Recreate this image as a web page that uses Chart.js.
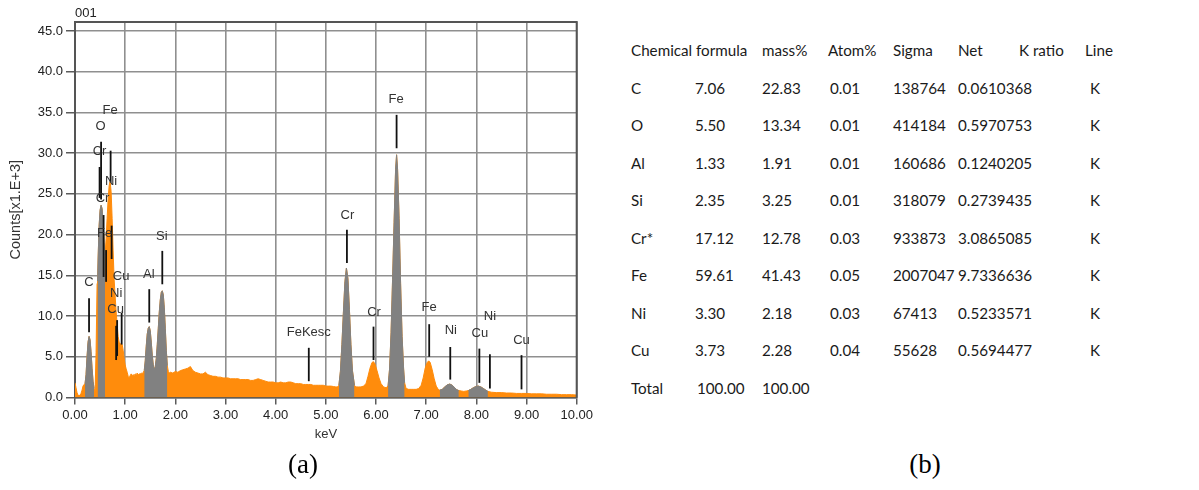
<!DOCTYPE html>
<html>
<head>
<meta charset="utf-8">
<title>EDS spectrum and quantification</title>
<script src="https://cdn.jsdelivr.net/npm/chart.js@4.4.1/dist/chart.umd.min.js"></script>
<style>
  html, body { margin: 0; padding: 0; background: #fff; width: 1199px; height: 490px; overflow: hidden; }
  #spec { position: absolute; left: 0; top: 0; width: 600px; height: 490px; }
  #runId { position: absolute; left: 75px; top: 5px; font: 13px "Liberation Sans", Arial, sans-serif; color: #222; }
  .cell { position: absolute; font-family: Lato, "Noto Sans", sans-serif; font-size: 15.2px; color: #1a1a1a;
          white-space: nowrap; line-height: 20px; height: 20px; }
  .cap { position: absolute; font-family: "Liberation Serif", "Times New Roman", serif; font-size: 27px; color: #000;
         transform: translateX(-50%); line-height: 30px; }
</style>
</head>
<body>
<div id="spec"><canvas id="c"></canvas></div>
<div id="runId">001</div>
<div id="table"></div>
<div class="cap" style="left:303px; top:449px">(a)</div>
<div class="cap" style="left:925px; top:449px">(b)</div>
<script>
// ---- spectrum (energy in keV, counts in thousands) ----
const keV = [
  0.00,0.02,0.04,0.06,0.08,0.10,0.12,0.14,0.16,0.18,
  0.20,0.22,0.24,0.26,0.28,0.30,0.32,0.34,0.36,0.38,
  0.40,0.42,0.44,0.45,0.46,0.48,0.50,0.52,0.54,0.56,
  0.58,0.60,0.62,0.64,0.66,0.68,0.70,0.72,0.74,0.76,
  0.78,0.80,0.82,0.84,0.86,0.88,0.90,0.92,0.94,0.96,
  0.98,1.00,1.02,1.04,1.06,1.08,1.10,1.12,1.14,1.16,
  1.18,1.20,1.22,1.24,1.26,1.28,1.30,1.32,1.34,1.36,
  1.38,1.40,1.42,1.44,1.46,1.48,1.50,1.52,1.54,1.56,
  1.58,1.60,1.62,1.64,1.66,1.68,1.70,1.72,1.74,1.76,
  1.78,1.80,1.82,1.84,1.86,1.88,1.90,1.95,2.00,2.05,
  2.10,2.15,2.20,2.25,2.30,2.35,2.40,2.45,2.50,2.55,
  2.60,2.65,2.70,2.75,2.80,2.85,2.90,2.95,3.00,3.05,
  3.10,3.15,3.20,3.25,3.30,3.35,3.40,3.45,3.50,3.55,
  3.60,3.65,3.70,3.75,3.80,3.85,3.90,3.95,4.00,4.05,
  4.10,4.15,4.20,4.25,4.30,4.35,4.40,4.45,4.50,4.55,
  4.60,4.65,4.70,4.75,4.80,4.85,4.90,4.95,5.00,5.05,
  5.10,5.15,5.20,5.23,
  5.26,5.29,5.32,5.35,5.38,5.41,5.44,5.47,5.50,5.53,
  5.57,5.60,5.65,5.70,5.75,5.80,5.84,5.88,5.92,5.95,
  5.98,6.02,6.06,6.10,6.15,6.20,6.24,6.27,6.30,6.33,
  6.36,6.39,6.41,6.43,6.46,6.49,6.52,6.55,6.57,6.60,
  6.65,6.70,6.75,6.80,6.85,6.90,6.94,6.98,7.02,7.05,
  7.08,7.12,7.16,7.20,7.24,7.27,7.32,7.37,7.42,7.47,
  7.52,7.57,7.61,7.65,7.70,7.75,7.80,7.84,7.89,7.94,
  7.99,8.04,8.09,8.14,8.19,8.23,8.30,8.40,8.50,8.60,
  8.70,8.80,8.90,9.00,9.10,9.20,9.30,9.40,9.50,9.60,
  9.70,9.80,9.90,10.00
];
const counts = [
  1.8,1.2,0.6,0.3,0.2,0.3,0.5,0.9,1.4,1.6,
  1.7,2.8,5.0,6.8,7.5,7.1,5.6,3.6,2.0,1.1,
  0.7,5.5,14.0,14.3,17.0,21.0,23.0,23.6,23.2,21.5,
  19.0,17.5,19.5,22.0,24.3,26.0,26.5,25.3,22.0,18.0,
  14.5,12.5,10.5,9.0,7.5,6.8,6.4,6.7,6.5,5.8,
  4.8,4.0,3.5,3.1,2.6,2.4,2.7,2.9,2.7,2.8,
  2.7,2.9,2.8,3.0,2.8,2.9,2.9,3.0,2.9,3.1,
  3.3,4.5,6.3,7.8,8.5,8.7,8.2,6.8,5.2,4.0,
  3.4,3.8,4.8,6.5,8.5,10.5,12.0,12.9,13.1,12.6,
  11.0,8.5,5.8,3.9,3.2,3.0,3.1,3.0,3.2,3.1,
  3.3,3.4,3.5,3.6,3.8,3.3,3.1,3.0,2.9,2.9,
  3.1,2.8,2.7,2.6,2.6,2.5,2.5,2.4,2.4,2.4,
  2.3,2.3,2.3,2.3,2.2,2.2,2.2,2.2,2.1,2.1,
  2.2,2.3,2.2,2.1,2.0,1.9,1.9,1.9,1.8,1.8,
  1.9,1.8,1.8,1.9,1.9,1.8,1.7,1.7,1.7,1.6,
  1.6,1.6,1.6,1.5,1.5,1.5,1.5,1.5,1.4,1.4,
  1.4,1.35,1.3,1.3,
  1.5,3.2,6.5,10.5,14.2,15.9,14.6,10.8,6.5,3.3,
  1.5,1.3,1.3,1.3,1.4,1.7,2.6,3.6,4.3,4.4,
  4.1,3.3,2.4,1.7,1.3,1.2,1.4,3.5,8.0,14.5,
  21.5,28.0,29.8,28.0,22.0,14.0,7.5,3.5,1.8,1.1,
  1.0,1.0,1.0,1.0,1.1,1.5,2.4,3.6,4.3,4.5,
  4.3,3.4,2.3,1.4,1.0,0.9,1.0,1.3,1.55,1.65,
  1.5,1.2,0.95,0.85,0.8,0.75,0.8,0.85,1.0,1.2,
  1.35,1.4,1.3,1.1,0.9,0.75,0.65,0.6,0.6,0.55,
  0.55,0.5,0.5,0.5,0.45,0.45,0.45,0.4,0.4,0.4,
  0.35,0.35,0.35,0.3
];

// integration windows of the identified peaks (keV)
const windowStart = [0.20, 0.45, 1.38, 5.26, 6.24, 7.27, 7.84];
const windowEnd   = [0.38, 0.60, 1.84, 5.57, 6.57, 7.65, 8.23];

// peak identification markers
const markerNames = ['C','O','Cr','Cr','Fe','Fe','Ni','Cu','Ni','Cu','Al','Si','FeKesc','Cr','Cr','Fe','Fe','Ni','Cu','Ni','Cu'];
const markerKeV   = [0.28,0.52,0.49,0.57,0.62,0.71,0.73,0.93,0.84,0.82,1.48,1.74,4.66,5.42,5.95,6.41,7.06,7.48,8.06,8.27,8.90];
const markerTop   = [12.2,31.4,28.3,22.4,18.1,30.3,21.1,10.4,9.5,8.8,13.3,18.0,6.1,20.6,8.7,34.7,9.0,6.2,6.0,5.3,5.2];
const markerBase  = [8.0,24.3,24.5,14.8,14.2,26.4,17.0,6.5,5.1,4.6,9.2,13.9,2.0,16.5,4.6,30.6,5.0,2.2,1.8,1.1,1.0];
const labelKeV    = [0.28,0.51,0.49,0.55,0.59,0.70,0.72,0.92,0.82,0.81,1.47,1.73,4.66,5.43,5.96,6.40,7.06,7.49,8.07,8.27,8.90];
const labelCounts = [14.1,33.3,30.2,24.4,20.1,35.3,26.5,14.9,12.8,10.8,15.1,19.8,8.0,22.4,10.5,36.6,11.0,8.2,7.9,9.9,7.0];

// axis ticks
const xTicks = [0, 1, 2, 3, 4, 5, 6, 7, 8, 9, 10];
const yTicks = [0, 5, 10, 15, 20, 25, 30, 35, 40, 45];
const xMin = 0, xMax = 10, yMin = 0, yMax = 46.1;

// ---- quantification table ----
const tableHeader = ['Chemical formula','mass%','Atom%','Sigma','Net','K ratio','Line'];
const elementNames = ['C','O','Al','Si','Cr*','Fe','Ni','Cu'];
const massPct  = ['7.06','5.50','1.33','2.35','17.12','59.61','3.30','3.73'];
const atomPct  = ['22.83','13.34','1.91','3.25','12.78','41.43','2.18','2.28'];
const sigmaVal = ['0.01','0.01','0.01','0.01','0.03','0.05','0.03','0.04'];
const netCount = ['138764','414184','160686','318079','933873','2007047','67413','55628'];
const kRatio   = ['0.0610368','0.5970753','0.1240205','0.2739435','3.0865085','9.7336636','0.5233571','0.5694477'];
const lineType = ['K','K','K','K','K','K','K','K'];
const totalRow = ['Total','100.00','100.00'];

// table layout
const headerLeft = [631, 762, 828, 893, 958, 1019, 1085];
const colLeft = [631, 695, 762, 830, 893, 958, 1090];
const headerY = 49.5, firstRowY = 87.5, rowStep = 37.5;

function addCell(text, left, centerY) {
  const d = document.createElement('div');
  d.className = 'cell';
  d.textContent = text;
  d.style.left = left + 'px';
  d.style.top = (centerY - 10) + 'px';
  document.getElementById('table').appendChild(d);
}
tableHeader.forEach((h, i) => addCell(h, headerLeft[i], headerY));
elementNames.forEach((el, r) => {
  const y = firstRowY + r * rowStep;
  [el, massPct[r], atomPct[r], sigmaVal[r], netCount[r], kRatio[r], lineType[r]]
    .forEach((v, c) => addCell(v, colLeft[c], y));
});
totalRow.forEach((v, c) => addCell(v, colLeft[c] + (c === 1 ? 2 : 0), firstRowY + elementNames.length * rowStep));

// ---- spectrum chart ----
const inWindow = e => windowStart.some((s, i) => e >= s - 1e-9 && e <= windowEnd[i] + 1e-9);
const spectrumPts = keV.map((e, i) => ({ x: e, y: counts[i] }));
const peakPts = keV.map((e, i) => ({ x: e, y: inWindow(e) ? counts[i] : null }));

const ORANGE = '#ff8c0c';
const GRAY = '#818181';
const tickFont = { family: '"Liberation Sans", Arial, sans-serif', size: 13 };

const peakMarkers = {
  id: 'peakMarkers',
  afterDatasetsDraw(chart) {
    const { ctx, chartArea: a, scales: { x, y } } = chart;
    ctx.save();
    // plot frame (top and right)
    ctx.strokeStyle = '#555';
    ctx.lineWidth = 2;
    ctx.beginPath();
    ctx.moveTo(a.left, a.top);
    ctx.lineTo(a.right, a.top);
    ctx.lineTo(a.right, a.bottom);
    ctx.stroke();
    // marker lines
    ctx.strokeStyle = '#111';
    ctx.lineWidth = 1.8;
    markerNames.forEach((n, i) => {
      const px = x.getPixelForValue(markerKeV[i]);
      ctx.beginPath();
      ctx.moveTo(px, y.getPixelForValue(markerTop[i]));
      ctx.lineTo(px, y.getPixelForValue(markerBase[i]));
      ctx.stroke();
    });
    // marker labels
    ctx.font = '13px "Liberation Sans", Arial, sans-serif';
    ctx.fillStyle = '#333';
    ctx.textAlign = 'center';
    ctx.textBaseline = 'middle';
    markerNames.forEach((n, i) => {
      ctx.fillText(n, x.getPixelForValue(labelKeV[i]), y.getPixelForValue(labelCounts[i]));
    });
    ctx.restore();
  }
};

new Chart(document.getElementById('c'), {
  type: 'line',
  data: {
    datasets: [
      { label: 'peaks', data: peakPts, backgroundColor: GRAY, borderColor: GRAY, borderWidth: 1,
        fill: 'origin', spanGaps: false, order: 0 },
      { label: 'spectrum', data: spectrumPts, backgroundColor: ORANGE, borderColor: ORANGE, borderWidth: 1,
        fill: 'origin', order: 1 }
    ]
  },
  options: {
    responsive: true,
    maintainAspectRatio: false,
    animation: false,
    devicePixelRatio: 1,
    layout: { padding: { left: 0, top: 22, right: 23.3, bottom: 44.5 } },
    plugins: { legend: { display: false }, tooltip: { enabled: false } },
    elements: { point: { radius: 0 }, line: { tension: 0 } },
    scales: {
      x: {
        type: 'linear', min: xMin, max: xMax,
        afterBuildTicks(s) { s.ticks = xTicks.map(v => ({ value: v })); },
        ticks: { callback: v => Number(v).toFixed(2), color: '#222', font: tickFont,
                 padding: 3, maxRotation: 0, autoSkip: false },
        grid: { color: '#8f8f8f', lineWidth: 1.6, tickLength: 7, tickColor: '#333', tickWidth: 1.2 },
        border: { color: '#555', width: 1.5 },
        title: { display: true, text: 'keV', color: '#333', font: tickFont, padding: { top: 0, bottom: 3.7 } },
        afterFit(s) { s.height = 48; }
      },
      y: {
        type: 'linear', min: yMin, max: yMax,
        afterBuildTicks(s) { s.ticks = yTicks.map(v => ({ value: v })); },
        ticks: { callback: v => Number(v).toFixed(1), color: '#222', font: tickFont, padding: 3, autoSkip: false },
        grid: { color: '#8f8f8f', lineWidth: 1.6, tickLength: 9, tickColor: '#333', tickWidth: 1.2 },
        border: { color: '#555', width: 2 },
        title: { display: true, text: 'Counts[x1.E+3]', color: '#333',
                 font: { family: '"Liberation Sans", Arial, sans-serif', size: 14.5 }, padding: { top: 6.8, bottom: 0 } },
        afterFit(s) { s.width = 75; }
      }
    }
  },
  plugins: [peakMarkers]
});
</script>
</body>
</html>
